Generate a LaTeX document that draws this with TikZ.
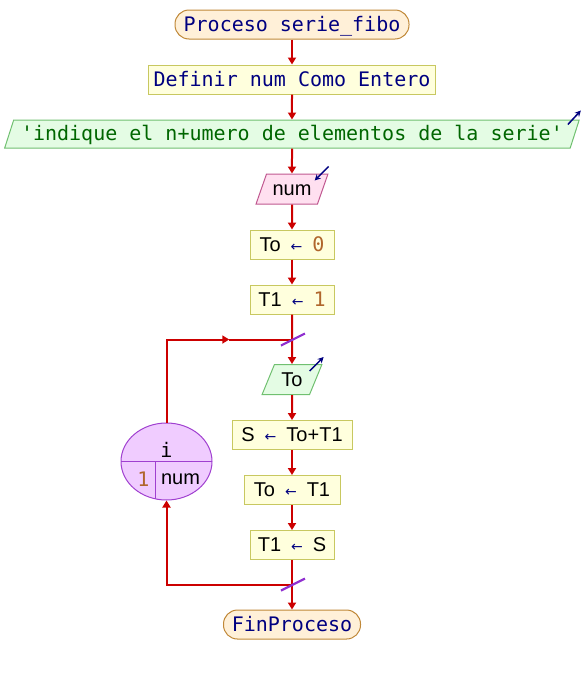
\documentclass[tikz,border=0pt]{standalone}
\usepackage{fontspec}
\setmainfont{Liberation Sans}
\setmonofont{DejaVu Sans Mono}
\newfontfamily\symfont{DejaVu Sans}
\usetikzlibrary{arrows.meta,positioning,shapes.geometric,calc}
\definecolor{PsNavy}{HTML}{000080}
\definecolor{PsRed}{HTML}{CC0000}
\definecolor{PsCut}{HTML}{9030D0}
\definecolor{PsString}{HTML}{006600}
\definecolor{PsNumber}{HTML}{B0662C}
\definecolor{PsTermFill}{HTML}{FFF0D8}
\definecolor{PsTermLine}{HTML}{C08838}
\definecolor{PsBoxFill}{HTML}{FFFFDD}
\definecolor{PsBoxLine}{HTML}{C8C860}
\definecolor{PsOutFill}{HTML}{E4FCE4}
\definecolor{PsOutLine}{HTML}{70C070}
\definecolor{PsInFill}{HTML}{FFE0F0}
\definecolor{PsInLine}{HTML}{C05890}
\definecolor{PsLoopFill}{HTML}{F0CCFF}
\definecolor{PsLoopLine}{HTML}{A040D0}
\newcommand{\kw}[1]{{\ttfamily\fontsize{20}{22}\selectfont\color{PsNavy}#1}}
\newcommand{\strlit}[1]{{\ttfamily\fontsize{20}{22}\selectfont\color{PsString}#1}}
\newcommand{\numlit}[1]{{\ttfamily\fontsize{20}{22}\selectfont\color{PsNumber}#1}}
\newcommand{\asig}{\hspace{10pt}{\symfont\fontsize{14}{14}\selectfont\color{PsNavy}←}\hspace{10pt}}

\begin{document}
\begin{tikzpicture}[x=1pt,y=-1pt,
  node distance=25pt,
  base/.style={draw,line width=1pt,minimum height=29pt,inner sep=2pt,text height=16pt,text depth=3pt,font=\fontsize{20}{22}\selectfont},
  terminal/.style={base,draw=PsTermLine,fill=PsTermFill,rounded corners=14pt},
  procbox/.style={base,draw=PsBoxLine,fill=PsBoxFill},
  iobox/.style={base,trapezium,trapezium left angle=69,trapezium right angle=111,trapezium stretches=true},
  outbox/.style={iobox,draw=PsOutLine,fill=PsOutFill},
  inbox/.style={iobox,draw=PsInLine,fill=PsInFill},
  flow/.style={-{Triangle[length=7pt,width=8pt]},line width=2pt,PsRed},
  link/.style={line width=2pt,PsRed},
  cut/.style={line width=2.2pt,PsCut},
  ioarrow/.style={-{Stealth[length=6pt,width=6pt]},line width=1.5pt,PsNavy}
]
\useasboundingbox (0,0) rectangle (584,675);
% main column
\node[terminal,minimum width=234pt] (start) at (292,24.5) {\kw{Proceso serie\_fibo}};
\node[procbox,minimum width=287pt,below=of start] (def) {\kw{Definir num Como Entero}};
\node[outbox,minimum width=576pt,minimum height=28pt,below=of def] (msg) {\strlit{'indique el n+umero de elementos de la serie'}};
\node[inbox,minimum width=72pt,minimum height=30pt,below=of msg] (num) {num};
\node[procbox,minimum width=84pt,below=of num] (init0) {To\asig\numlit{0}};
\node[procbox,minimum width=84pt,below=of init0] (init1) {T1\asig\numlit{1}};
\coordinate[below=25pt of init1] (join);
\node[outbox,minimum width=60pt,minimum height=30pt,below=24.5pt of join] (show) {To};
\node[procbox,minimum width=120pt,below=of show] (sum) {S\asig To+T1};
\node[procbox,minimum width=96pt,below=of sum] (shift0) {To\asig T1};
\node[procbox,minimum width=84pt,below=of shift0] (shift1) {T1\asig S};
\coordinate[below=24.5pt of shift1] (leave);
\node[terminal,minimum width=137pt,below=25pt of leave] (fin) {\kw{FinProceso}};
% loop header
\node[ellipse,draw=PsLoopLine,fill=PsLoopFill,line width=1pt,minimum width=91pt,minimum height=77pt,inner sep=0pt,
  path picture={\draw[PsLoopLine,line width=1pt] (path picture bounding box.west) -- (path picture bounding box.east)
    ([xshift=-11.5pt]path picture bounding box.center) -- ++(0,-50pt);}] (loop) at (166.5,461.5) {};
\node[font=\fontsize{20}{22}\selectfont] (loopvar) at ($(loop.center)+(0,-12)$) {\ttfamily i};
\node[font=\fontsize{20}{22}\selectfont] (loopfrom) at ($(loop.center)+(-23,18)$) {\numlit{1}};
\node[font=\fontsize{20}{22}\selectfont] (loopto) at ($(loop.center)+(14,18)$) {num};
% connectors
\draw[flow] (start) -- (def);
\draw[flow] (def) -- (msg);
\draw[flow] (msg) -- (num);
\draw[flow] (num) -- (init0);
\draw[flow] (init0) -- (init1);
\draw[flow] (init1) -- (show);
\draw[flow] (show) -- (sum);
\draw[flow] (sum) -- (shift0);
\draw[flow] (shift0) -- (shift1);
\draw[flow] (shift1) -- (fin);
\draw[flow] (leave) -| (loop.south);
\coordinate (back) at ($(join -| loop)!0.5!(join)$);
\draw[flow] (loop.north) |- (back);
\draw[link] (back) -- (join);
\draw[cut] ($(join)+(-11,6)$) -- ($(join)+(13,-6)$);
\draw[cut] ($(leave)+(-11,6)$) -- ($(leave)+(13,-6)$);
% read / write marks
\draw[ioarrow] ($(msg.top right corner)+(-12,5)$) -- ++(13,-14);
\draw[ioarrow] ($(num.top right corner)+(0,-7)$) -- ++(-14,14);
\draw[ioarrow] ($(show.top right corner)+(-13,7)$) -- ++(14,-14);
\end{tikzpicture}
\end{document}
